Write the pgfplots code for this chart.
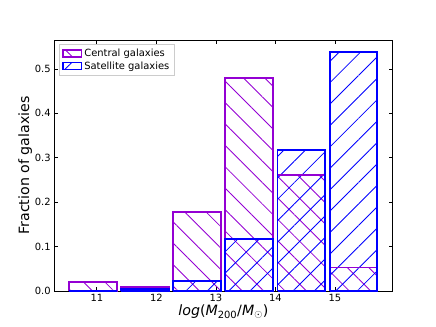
\documentclass[border=0pt]{standalone}
\usepackage{pgfplots}
\pgfplotsset{compat=1.18}
\usepackage{fontspec}
\setmainfont{DejaVu Sans}
\usetikzlibrary{patterns.meta}

\definecolor{cenpurple}{RGB}{148,0,211}
\definecolor{satblue}{RGB}{0,0,255}

% outlines of the histogram bars (left edge, right edge, height)
\pgfplotstableread{
x       y
10.535  0
10.535  0.020
11.340  0.020
11.340  0
10.535  0
nan     nan
11.410  0
11.410  0.009
12.215  0.009
12.215  0
11.410  0
nan     nan
12.285  0
12.285  0.177
13.090  0.177
13.090  0
12.285  0
nan     nan
13.160  0
13.160  0.480
13.965  0.480
13.965  0
13.160  0
nan     nan
14.035  0
14.035  0.262
14.840  0.262
14.840  0
14.035  0
nan     nan
14.910  0
14.910  0.053
15.715  0.053
15.715  0
14.910  0
}\central

\pgfplotstableread{
x       y
10.535  0
10.535  0.000
11.340  0.000
11.340  0
10.535  0
nan     nan
11.410  0
11.410  0.005
12.215  0.005
12.215  0
11.410  0
nan     nan
12.285  0
12.285  0.022
13.090  0.022
13.090  0
12.285  0
nan     nan
13.160  0
13.160  0.117
13.965  0.117
13.965  0
13.160  0
nan     nan
14.035  0
14.035  0.318
14.840  0.318
14.840  0
14.035  0
nan     nan
14.910  0
14.910  0.538
15.715  0.538
15.715  0
14.910  0
}\satellite

\tikzset{
  cenhatch/.style={pattern={Lines[angle=-45, distance=16pt, line width=0.9pt]}, pattern color=cenpurple},
  sathatch/.style={pattern={Lines[angle=45, distance=16pt, line width=0.9pt]}, pattern color=satblue},
}

\begin{document}
\begin{tikzpicture}
\path[use as bounding box] (0,0) rectangle (460.8pt,345.6pt);
\begin{axis}[
    at={(57.1pt,38pt)},
    anchor=south west,
    scale only axis,
    width=357.9pt,
    height=265.3pt,
    xmin=10.28, xmax=15.97,
    ymin=0, ymax=0.565,
    xtick={11,12,13,14,15},
    ytick={0,0.1,0.2,0.3,0.4,0.5},
    yticklabels={0.0,0.1,0.2,0.3,0.4,0.5},
    tick align=inside,
    tick pos=both,
    xticklabel pos=bottom,
    yticklabel pos=left,
    major tick length=4pt,
    tick style={black, line width=0.8pt},
    axis line style={line width=0.8pt},
    /pgf/number format/assume math mode=true,
    ticklabel style={font=\fontsize{10.5}{12}\selectfont},
    xlabel={\textit{log}(\textit{M}\textsubscript{200}/\textit{M}\textsubscript{$\odot$})},
    ylabel={Fraction of galaxies},
    label style={font=\fontsize{15}{18}\selectfont},
    xlabel style={yshift=4pt},
    ylabel style={yshift=-4pt},
    unbounded coords=jump,
    legend style={at={(0.014,0.985)}, anchor=north west,
        font=\fontsize{10.5}{13}\selectfont, draw=black!20,
        row sep=0pt, inner sep=3pt},
    legend cell align=left,
    legend image code/.code={
        \draw[#1] (0pt,-3.7pt) -- (0pt,3.7pt) -- (20pt,3.7pt) -- (20pt,-3.7pt) -- cycle;},
]
% hatching
\addplot[draw=none, cenhatch, forget plot] table {\central};
\addplot[draw=none, sathatch, forget plot] table {\satellite};
% outlines
\addplot[draw=cenpurple, line width=2.1pt, line join=miter, mark=none, forget plot]
    table {\central};
\addplot[draw=satblue, line width=2.1pt, line join=miter, mark=none, forget plot]
    table {\satellite};
\addlegendimage{draw=cenpurple, line width=1.8pt, cenhatch}
\addlegendentry{Central galaxies}
\addlegendimage{draw=satblue, line width=1.8pt, sathatch}
\addlegendentry{Satellite galaxies}
\end{axis}
\end{tikzpicture}
\end{document}
